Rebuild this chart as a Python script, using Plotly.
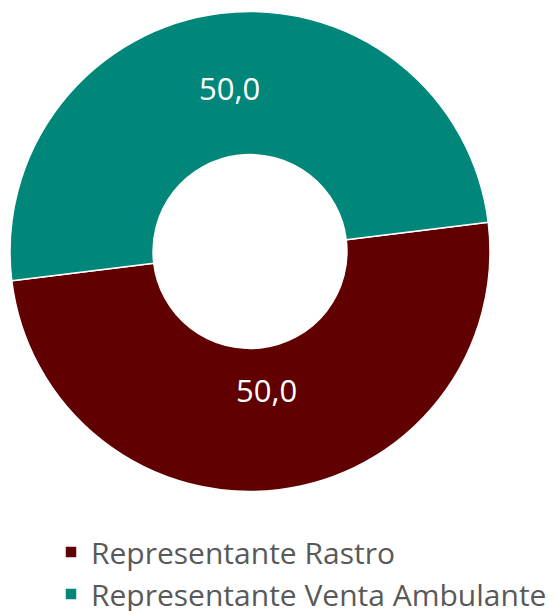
import math
import plotly.graph_objects as go

labels = ["Representante Rastro", "Representante Venta Ambulante"]
values = [50.0, 50.0]
colors = ["#600000", "#00877A"]

W, H = 557, 611
# the page body adds an 8px margin, so positions below are shifted back by it
CX, CY, R = 242, 243.5, 240       # donut centre and radius in px
ROT = 83                          # start angle of the first slice (deg, clockwise from 12 o'clock)
label_r = [0.58, 0.685]           # radial position of each value label, fraction of R

fig = go.Figure()
fig.add_trace(go.Pie(
    labels=labels, values=values, sort=False, direction="clockwise", rotation=ROT,
    hole=0.404,
    marker=dict(colors=colors, line=dict(color="#FFFFFF", width=1.5)),
    textinfo="none",
    domain=dict(x=[(CX - R) / W, (CX + R) / W], y=[1 - (CY + R) / H, 1 - (CY - R) / H]),
    hoverinfo="label+value",
))

# value labels, placed at each slice's mid angle
total = sum(values)
cum = 0
for v, rf in zip(values, label_r):
    mid = math.radians(ROT + (cum + v / 2) / total * 360)
    cum += v
    px = CX + rf * R * math.sin(mid)
    py = CY - rf * R * math.cos(mid)
    fig.add_annotation(
        x=px / W, y=1 - py / H, xref="paper", yref="paper",
        xanchor="center", yanchor="middle",
        text=f"{v:.1f}".replace(".", ","), showarrow=False,
        font=dict(family="Open Sans", size=31, color="#FFFFFF"),
    )

fig.update_layout(
    width=W, height=H, margin=dict(l=0, r=0, t=0, b=0, autoexpand=False),
    paper_bgcolor="#FFFFFF", plot_bgcolor="#FFFFFF",
    showlegend=True,
    legend=dict(
        x=43 / W, xanchor="left", y=1 - 518 / H, yanchor="top",
        font=dict(family="Open Sans", size=30, color="#595959"),
        tracegroupgap=0, bgcolor="rgba(0,0,0,0)",
    ),
)

fig.write_html("out.html")
